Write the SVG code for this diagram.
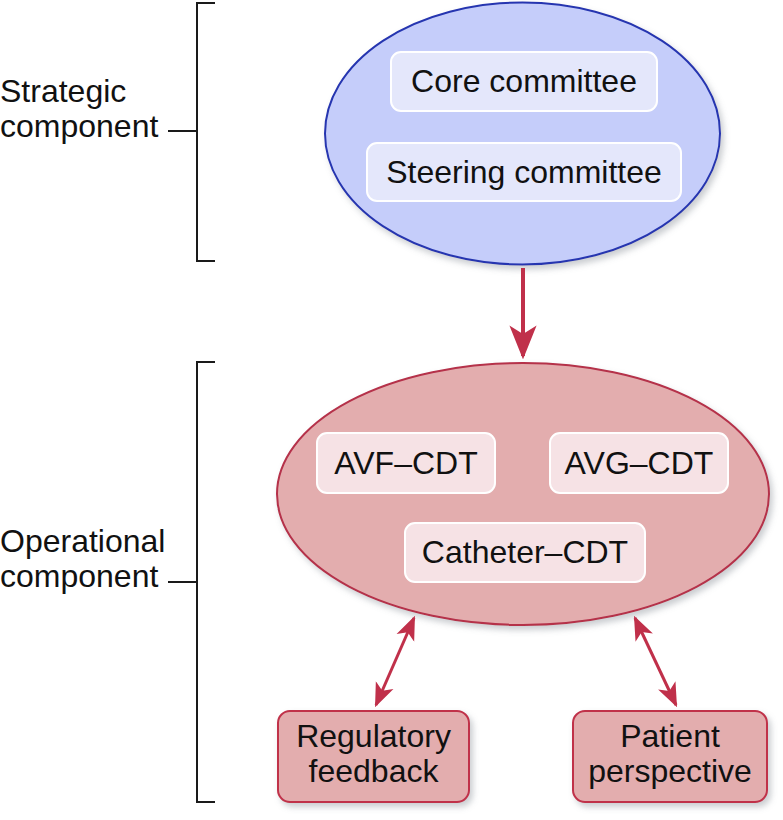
<svg xmlns="http://www.w3.org/2000/svg" width="783" height="820" viewBox="0 0 783 820">
<style>
text{font-family:"Liberation Sans",Arial,Helvetica,sans-serif;font-size:32px;fill:#111;}
.c{text-anchor:middle;}
.br{fill:none;stroke:#1a1a1a;stroke-width:2;}
.ib{fill:#e4e7fb;stroke:#ffffff;stroke-width:2;}
.ir{fill:#f6e2e5;stroke:#ffffff;stroke-width:2;}
.rb{fill:#e3adae;stroke:#c0304a;stroke-width:2;}
.ar{stroke:#c0304a;fill:none;}
</style>
<defs>
<filter id="sh" x="-10%" y="-10%" width="130%" height="130%">
<feDropShadow dx="3" dy="4" stdDeviation="3" flood-color="#8a9098" flood-opacity="0.45"/>
</filter>
<marker id="ahs" viewBox="0 0 10 10" refX="9" refY="5" markerWidth="24" markerHeight="24" markerUnits="userSpaceOnUse" orient="auto-start-reverse">
<path d="M0,1 L10,5 L0,9 L2.5,5 z" fill="#c0304a"/>
</marker>
<marker id="ahb" viewBox="0 0 10 10" refX="9" refY="5" markerWidth="34" markerHeight="34" markerUnits="userSpaceOnUse" orient="auto">
<path d="M0,1 L10,5 L0,9 L2.5,5 z" fill="#c0304a"/>
</marker>
</defs>

<g id="strategic-label">
<text x="0" y="102">Strategic</text>
<text x="0" y="137">component</text>
<path class="br" d="M215,3 H197 V261 H215 M168,131 H197"/>
</g>

<g id="operational-label">
<text x="0" y="552">Operational</text>
<text x="0" y="587">component</text>
<path class="br" d="M215,362 H197 V802 H215 M168,582 H197"/>
</g>

<g id="strategic">
<ellipse cx="522.5" cy="133.5" rx="197.5" ry="131" fill="#c5cdfa" stroke="#2535b0" stroke-width="2" filter="url(#sh)"/>
</g>
<g id="core-committee">
<rect class="ib" x="391" y="52" width="266" height="59" rx="10"/>
<text class="c" x="524" y="92">Core committee</text>
</g>
<g id="steering-committee">
<rect class="ib" x="367" y="143" width="314" height="58" rx="10"/>
<text class="c" x="524" y="183">Steering committee</text>
</g>

<g id="operational">
<ellipse cx="523" cy="494" rx="246" ry="131" fill="#e3adae" stroke="#b5304a" stroke-width="2" filter="url(#sh)"/>
</g>
<g id="avf-cdt">
<rect class="ir" x="317" y="433" width="178" height="60" rx="10"/>
<text class="c" x="406" y="474">AVF–CDT</text>
</g>
<g id="avg-cdt">
<rect class="ir" x="550" y="433" width="178" height="60" rx="10"/>
<text class="c" x="639" y="474">AVG–CDT</text>
</g>
<g id="catheter-cdt">
<rect class="ir" x="405" y="523" width="240" height="59" rx="10"/>
<text class="c" x="525" y="563">Catheter–CDT</text>
</g>

<g id="regulatory-feedback">
<rect class="rb" x="278" y="711" width="191" height="91" rx="12" filter="url(#sh)"/>
<text class="c" x="373.5" y="747">Regulatory</text>
<text class="c" x="373.5" y="782">feedback</text>
</g>
<g id="patient-perspective">
<rect class="rb" x="573" y="711" width="194" height="91" rx="12" filter="url(#sh)"/>
<text class="c" x="670" y="747">Patient</text>
<text class="c" x="670" y="782">perspective</text>
</g>

<g id="connectors">
<line class="ar" x1="523" y1="268" x2="523" y2="356" stroke-width="4" marker-end="url(#ahb)"/>
<line class="ar" x1="414" y1="618" x2="376" y2="705" stroke-width="3" marker-start="url(#ahs)" marker-end="url(#ahs)"/>
<line class="ar" x1="635" y1="618" x2="676" y2="705" stroke-width="3" marker-start="url(#ahs)" marker-end="url(#ahs)"/>
</g>
</svg>
